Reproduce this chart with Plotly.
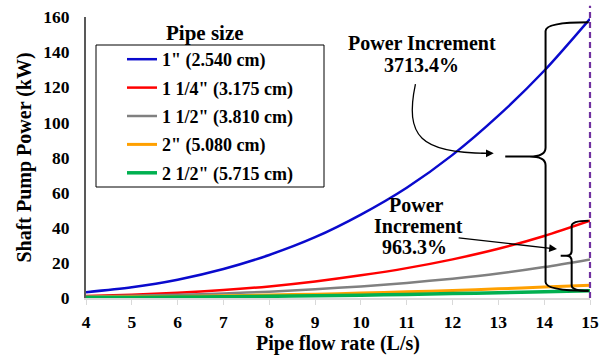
import plotly.graph_objects as go

# ---- data ----
flow = [4, 5, 6, 7, 8, 9, 10, 11, 12, 13, 14, 15]
series_names = ['1" (2.540 cm)', '1 1/4" (3.175 cm)', '1 1/2" (3.810 cm)',
                '2" (5.080 cm)', '2 1/2" (5.715 cm)']
p_1in = [3.3, 6.1, 10.4, 16.5, 24.5, 34.6, 47.5, 62.8, 81.5, 103.8, 129.4, 159.0]
p_1_25in = [1.2, 1.9, 3.0, 4.5, 6.6, 9.4, 12.9, 17.0, 22.0, 28.0, 35.3, 44.0]
p_1_5in = [0.9, 1.3, 1.8, 2.6, 3.6, 5.0, 6.6, 8.6, 11.0, 13.9, 17.6, 22.0]
p_2in = [0.45, 0.65, 0.9, 1.25, 1.7, 2.2, 2.8, 3.5, 4.3, 5.2, 6.2, 7.3]
p_2_5in = [0.25, 0.35, 0.5, 0.7, 0.95, 1.25, 1.6, 2.0, 2.5, 3.0, 3.55, 4.15]
x_ticks = [4, 5, 6, 7, 8, 9, 10, 11, 12, 13, 14, 15]
y_ticks = [0, 20, 40, 60, 80, 100, 120, 140, 160]

FONT = "Times New Roman, Liberation Serif, serif"
colors = ["#0A0ACD", "#FF0000", "#808080", "#FFA000", "#00B050"]
widths = [2.5, 2.5, 2.5, 3, 3.5]
all_series = [p_1in, p_1_25in, p_1_5in, p_2in, p_2_5in]

fig = go.Figure()
for i, (name, ys) in enumerate(zip(series_names, all_series)):
    fig.add_trace(go.Scatter(
        x=flow, y=ys, mode="lines", name=name, legendgroup=f"g{i}",
        line=dict(color=colors[i], width=widths[i], shape="spline", smoothing=0.8),
    ))

W, H = 601, 356
ml, mr, mt, mb = 86, 11, 17, 58
pw = W - ml - mr
ph = H - mt - mb
x_min, x_max = x_ticks[0], x_ticks[-1]

def px_x(px):
    return (px - ml) / pw

def px_y(py):
    return (H - mb - py) / ph

fig.update_layout(
    width=W, height=H,
    margin=dict(l=ml, r=mr, t=mt, b=mb, pad=0, autoexpand=False),
    paper_bgcolor="white", plot_bgcolor="white",
    font=dict(family=FONT, color="black", weight="bold"),
    showlegend=True,
    legend=dict(x=px_x(122), y=px_y(41), xanchor="left", yanchor="top",
                bgcolor="rgba(0,0,0,0)", borderwidth=0, tracegroupgap=2,
                font=dict(family=FONT, size=18, color="black", weight="bold")),
    xaxis=dict(range=[x_min, x_max], tickvals=x_ticks, showgrid=False, zeroline=False,
               automargin=False,
               showline=True, linecolor="#D9D9D9", linewidth=1.5,
               ticks="outside", ticklen=5, tickcolor="#D9D9D9", tickwidth=1,
               tickfont=dict(family=FONT, size=17.5, weight="bold"),
               ticklabelstandoff=2,
               title=dict(text="Pipe flow rate (L/s)", standoff=5,
                          font=dict(family=FONT, size=20, weight="bold"))),
    yaxis=dict(range=[0, 160], tickvals=y_ticks, showgrid=False, zeroline=False,
               automargin=False,
               showline=True, linecolor="#595959", linewidth=2, ticks="",
               tickfont=dict(family=FONT, size=17.5, weight="bold"),
               ticklabelstandoff=11,
               title=dict(text="Shaft Pump Power (kW)", standoff=6,
                          font=dict(family=FONT, size=20, weight="bold"))),
)

# legend frame and its title (title sits above the frame)
fig.add_shape(type="rect", xref="paper", yref="paper",
              x0=px_x(96), x1=px_x(324), y0=px_y(187), y1=px_y(45),
              line=dict(color="black", width=1), fillcolor="rgba(0,0,0,0)", layer="below")
fig.add_annotation(xref="paper", yref="paper", x=px_x(205), y=px_y(32.5),
                   text="Pipe size", showarrow=False, xanchor="center", yanchor="middle",
                   font=dict(family=FONT, size=21, weight="bold"))

# purple dashed line at the maximum flow rate (paper-referenced so it is not clipped)
x_line = (flow[-1] - x_min) / (x_max - x_min)
fig.add_shape(type="line", xref="paper", yref="paper", x0=x_line, x1=x_line,
              y0=0, y1=1.04, line=dict(color="#7030A0", width=2.2, dash="6px,4px"))


def brace_path(xv, xt, xe, yt, yb, dy, dx):
    ym = (yt + yb) / 2
    return (f"M {xe},{yt} Q {xv},{yt} {xv},{yt - dy} "
            f"L {xv},{ym + dy} Q {xv},{ym} {xv - dx},{ym} L {xt},{ym} "
            f"M {xv - dx},{ym} Q {xv},{ym} {xv},{ym - dy} "
            f"L {xv},{yb + dy} Q {xv},{yb} {xe},{yb}")

# big brace: 1" vs 2 1/2" at 15 L/s
fig.add_shape(type="path", xref="x", yref="y",
              path=brace_path(14.03, 13.15, 14.97, p_1in[-1] - 2, p_2_5in[-1], 5, 0.35),
              line=dict(color="black", width=2))
# small brace: 1 1/4" vs 2 1/2" at 15 L/s
fig.add_shape(type="path", xref="x", yref="y",
              path=brace_path(14.60, 14.36, 14.97, p_1_25in[-1], p_2_5in[-1], 3, 0.12),
              line=dict(color="black", width=2))

# curved arrow to big brace
fig.add_shape(type="path", xref="x", yref="y",
              path="M 11.19,121.8 C 10.95,92 11.3,82.4 12.75,82.4",
              line=dict(color="black", width=1.3))
fig.add_annotation(x=12.9, y=82.4, ax=-14, ay=0, text="", showarrow=True,
                   arrowhead=2, arrowsize=1.2, arrowwidth=1.3, arrowcolor="black")
# straight arrow to small brace
fig.add_annotation(x=14.28, y=27.9, ax=12.10, ay=34.3, axref="x", ayref="y",
                   text="", showarrow=True, arrowhead=2, arrowsize=1.2,
                   arrowwidth=1.3, arrowcolor="black")

ann_font = dict(family=FONT, size=20, weight="bold", color="black")
for txt, xx, yy in [("Power Increment", 11.33, 145.2), ("3713.4%", 11.33, 132.7),
                    ("Power", 11.22, 53.0), ("Increment", 11.25, 41.2),
                    ("963.3%", 11.18, 28.9)]:
    fig.add_annotation(x=xx, y=yy, text=txt, showarrow=False, xanchor="center",
                       yanchor="middle", font=ann_font)

fig.write_html("out.html")
